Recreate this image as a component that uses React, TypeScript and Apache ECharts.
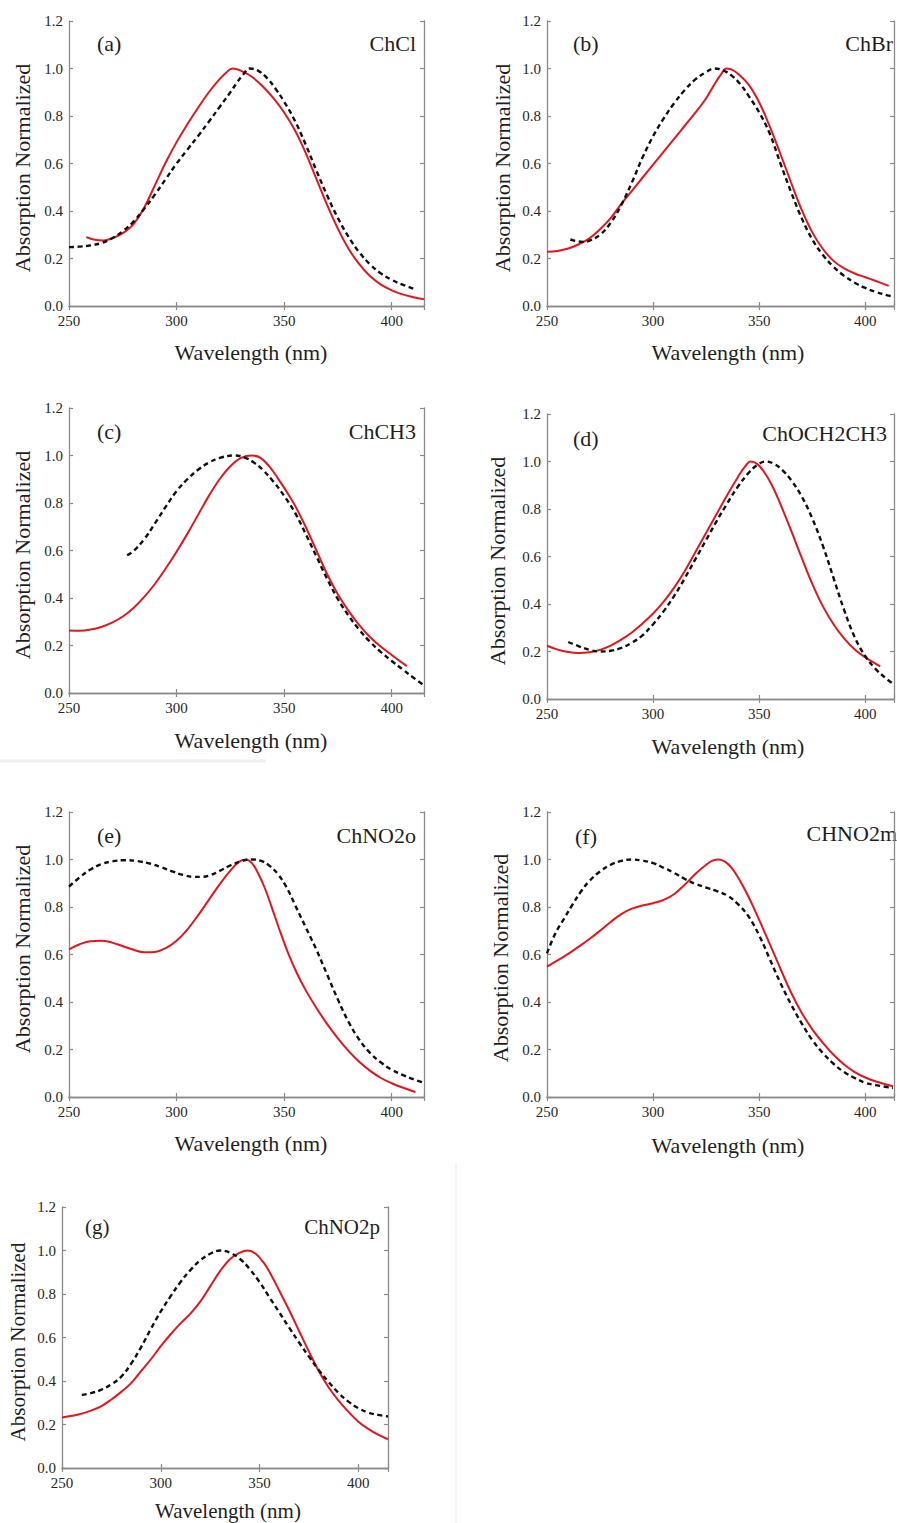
import React, { useEffect, useRef } from "react";
import * as echarts from "echarts";

type Pt = [number, number];

// Normalized absorption spectra, [wavelength nm, normalized absorbance]
const chclSolid: Pt[] = [
  [258, 0.29], [262, 0.279], [266, 0.276], [270, 0.285], [275, 0.307], [280, 0.345], [285, 0.415],
  [290, 0.51], [295, 0.605], [300, 0.69], [305, 0.765], [310, 0.835], [315, 0.9], [320, 0.955],
  [323, 0.982], [326, 1.0], [330, 0.99], [335, 0.965], [340, 0.925], [345, 0.875], [350, 0.815],
  [355, 0.74], [360, 0.645], [365, 0.535], [370, 0.425], [375, 0.325], [380, 0.24], [385, 0.175],
  [390, 0.125], [395, 0.09], [400, 0.066], [405, 0.049], [410, 0.037], [415, 0.028],
];
const chclDashed: Pt[] = [
  [250, 0.248], [255, 0.25], [260, 0.255], [265, 0.265], [270, 0.285], [275, 0.315], [280, 0.355],
  [285, 0.41], [290, 0.47], [295, 0.535], [300, 0.6], [305, 0.658], [310, 0.716], [315, 0.776],
  [320, 0.838], [325, 0.9], [328, 0.94], [331, 0.975], [334, 1.0], [338, 0.99], [342, 0.96],
  [346, 0.915], [350, 0.86], [355, 0.78], [360, 0.68], [365, 0.57], [370, 0.465], [375, 0.37],
  [380, 0.29], [385, 0.225], [390, 0.175], [395, 0.137], [400, 0.11], [405, 0.09], [410, 0.073],
];

const chbrSolid: Pt[] = [
  [250, 0.228], [255, 0.232], [260, 0.242], [265, 0.26], [270, 0.285], [275, 0.323], [280, 0.37],
  [285, 0.43], [290, 0.485], [295, 0.54], [300, 0.595], [305, 0.65], [310, 0.705], [315, 0.76],
  [320, 0.815], [325, 0.875], [329, 0.935], [332, 0.975], [334.5, 1.0], [337, 0.995], [340, 0.978],
  [345, 0.932], [350, 0.857], [355, 0.755], [360, 0.64], [365, 0.52], [370, 0.405], [375, 0.31],
  [380, 0.24], [385, 0.19], [390, 0.158], [395, 0.137], [400, 0.121], [405, 0.105], [411, 0.085],
];
const chbrDashed: Pt[] = [
  [261, 0.28], [264, 0.273], [267, 0.27], [270, 0.275], [275, 0.3], [280, 0.35], [285, 0.425],
  [290, 0.52], [295, 0.625], [300, 0.715], [305, 0.79], [310, 0.855], [315, 0.91], [320, 0.955],
  [325, 0.985], [329, 1.0], [333, 0.992], [337, 0.97], [341, 0.935], [345, 0.885], [350, 0.815],
  [355, 0.725], [360, 0.6], [365, 0.48], [370, 0.37], [375, 0.28], [380, 0.215], [385, 0.165],
  [390, 0.127], [395, 0.098], [400, 0.076], [405, 0.059], [410, 0.046], [413, 0.04],
];

const chch3Solid: Pt[] = [
  [250, 0.263], [255, 0.262], [260, 0.267], [265, 0.278], [270, 0.296], [275, 0.322], [280, 0.358],
  [285, 0.405], [290, 0.46], [295, 0.525], [300, 0.595], [305, 0.67], [310, 0.75], [315, 0.83],
  [320, 0.9], [325, 0.955], [330, 0.99], [335, 1.0], [339, 0.99], [343, 0.955], [347, 0.905],
  [351, 0.85], [355, 0.79], [360, 0.7], [365, 0.6], [370, 0.5], [375, 0.415], [380, 0.345],
  [385, 0.285], [390, 0.235], [395, 0.195], [400, 0.16], [407, 0.113],
];
const chch3Dashed: Pt[] = [
  [277, 0.58], [280, 0.598], [285, 0.648], [290, 0.715], [295, 0.785], [300, 0.85], [305, 0.9],
  [310, 0.94], [315, 0.97], [320, 0.99], [327, 1.0], [332, 0.99], [336, 0.97], [340, 0.94],
  [345, 0.89], [350, 0.83], [355, 0.76], [360, 0.67], [365, 0.575], [370, 0.48], [375, 0.395],
  [380, 0.325], [385, 0.265], [390, 0.215], [395, 0.172], [400, 0.135], [405, 0.1], [410, 0.065],
  [415, 0.032],
];

const choetSolid: Pt[] = [
  [250, 0.224], [255, 0.208], [260, 0.198], [265, 0.194], [270, 0.197], [275, 0.207], [280, 0.225],
  [285, 0.25], [290, 0.28], [295, 0.318], [300, 0.36], [305, 0.41], [310, 0.47], [315, 0.54],
  [320, 0.62], [325, 0.7], [330, 0.78], [335, 0.86], [340, 0.935], [343, 0.975], [346, 1.0],
  [349, 0.99], [352, 0.96], [356, 0.9], [360, 0.82], [365, 0.71], [370, 0.595], [375, 0.485],
  [380, 0.39], [385, 0.315], [390, 0.255], [395, 0.208], [400, 0.175], [407, 0.137],
];
const choetDashed: Pt[] = [
  [260, 0.24], [265, 0.222], [270, 0.207], [275, 0.2], [280, 0.203], [285, 0.215], [290, 0.237],
  [295, 0.268], [300, 0.315], [305, 0.37], [310, 0.435], [315, 0.51], [320, 0.59], [325, 0.67],
  [330, 0.75], [335, 0.825], [340, 0.895], [345, 0.952], [349, 0.985], [353, 1.0], [357, 0.99],
  [361, 0.963], [365, 0.922], [370, 0.853], [375, 0.76], [380, 0.645], [385, 0.51], [390, 0.375],
  [395, 0.26], [400, 0.18], [405, 0.125], [410, 0.085], [413, 0.065],
];

const chno2oSolid: Pt[] = [
  [250, 0.622], [255, 0.643], [260, 0.656], [265, 0.658], [270, 0.65], [275, 0.635], [280, 0.62],
  [285, 0.61], [290, 0.611], [295, 0.627], [300, 0.658], [305, 0.705], [310, 0.765], [315, 0.83],
  [320, 0.895], [325, 0.953], [329, 0.99], [332, 1.0], [335, 0.985], [338, 0.94], [341, 0.88],
  [344, 0.805], [348, 0.7], [352, 0.603], [356, 0.52], [360, 0.45], [365, 0.375], [370, 0.307],
  [375, 0.247], [380, 0.193], [385, 0.147], [390, 0.11], [395, 0.08], [400, 0.058], [405, 0.04],
  [411, 0.021],
];
const chno2oDashed: Pt[] = [
  [250, 0.886], [255, 0.925], [260, 0.958], [265, 0.98], [270, 0.992], [276, 0.997], [282, 0.993],
  [288, 0.982], [293, 0.967], [298, 0.95], [303, 0.935], [308, 0.927], [312, 0.927], [316, 0.935],
  [320, 0.952], [325, 0.975], [330, 0.993], [335, 1.0], [339, 0.995], [343, 0.975], [347, 0.94],
  [351, 0.885], [355, 0.81], [360, 0.715], [365, 0.62], [370, 0.515], [375, 0.41], [380, 0.315],
  [385, 0.24], [390, 0.185], [395, 0.145], [400, 0.115], [405, 0.093], [410, 0.075], [415, 0.06],
];

const chno2mSolid: Pt[] = [
  [250, 0.549], [255, 0.575], [260, 0.603], [265, 0.633], [270, 0.665], [275, 0.7], [280, 0.737],
  [285, 0.77], [290, 0.793], [295, 0.806], [300, 0.816], [305, 0.83], [310, 0.855], [315, 0.895],
  [320, 0.94], [325, 0.978], [328, 0.995], [331, 1.0], [334, 0.99], [337, 0.965], [340, 0.925],
  [344, 0.86], [348, 0.785], [352, 0.705], [356, 0.623], [360, 0.54], [365, 0.44], [370, 0.355],
  [375, 0.285], [380, 0.228], [385, 0.178], [390, 0.137], [395, 0.105], [400, 0.082], [405, 0.065],
  [413, 0.045],
];
const chno2mDashed: Pt[] = [
  [250, 0.605], [254, 0.69], [258, 0.75], [262, 0.81], [266, 0.865], [270, 0.91], [275, 0.95],
  [280, 0.978], [285, 0.994], [290, 1.0], [295, 0.995], [300, 0.985], [305, 0.965], [310, 0.943],
  [315, 0.918], [320, 0.897], [325, 0.882], [330, 0.867], [335, 0.848], [340, 0.812], [345, 0.76],
  [350, 0.68], [355, 0.58], [360, 0.48], [365, 0.39], [370, 0.31], [375, 0.24], [380, 0.185],
  [385, 0.14], [390, 0.105], [395, 0.08], [400, 0.06], [405, 0.05], [413, 0.038],
];

const chno2pSolid: Pt[] = [
  [250, 0.232], [255, 0.24], [260, 0.25], [265, 0.265], [270, 0.285], [275, 0.315], [280, 0.35],
  [285, 0.39], [290, 0.445], [295, 0.5], [300, 0.56], [305, 0.615], [310, 0.665], [315, 0.71],
  [320, 0.765], [325, 0.835], [330, 0.905], [335, 0.96], [340, 0.99], [344, 1.0], [348, 0.985],
  [352, 0.945], [356, 0.885], [360, 0.815], [365, 0.725], [370, 0.63], [375, 0.535], [380, 0.445],
  [385, 0.37], [390, 0.31], [395, 0.258], [400, 0.213], [405, 0.18], [410, 0.153], [415, 0.132],
];
const chno2pDashed: Pt[] = [
  [260, 0.336], [265, 0.345], [270, 0.36], [275, 0.385], [280, 0.42], [285, 0.48], [290, 0.555],
  [295, 0.64], [300, 0.72], [305, 0.79], [310, 0.855], [315, 0.91], [320, 0.955], [325, 0.985],
  [330, 1.0], [335, 0.99], [340, 0.962], [345, 0.915], [350, 0.855], [355, 0.785], [360, 0.715],
  [365, 0.645], [370, 0.577], [375, 0.512], [380, 0.45], [385, 0.395], [390, 0.345], [395, 0.305],
  [400, 0.275], [405, 0.255], [410, 0.244], [415, 0.237],
];

const panelTags = ["(a)", "(b)", "(c)", "(d)", "(e)", "(f)", "(g)"];
const compoundNames = ["ChCl", "ChBr", "ChCH3", "ChOCH2CH3", "ChNO2o", "CHNO2m", "ChNO2p"];
const solidSets = [chclSolid, chbrSolid, chch3Solid, choetSolid, chno2oSolid, chno2mSolid, chno2pSolid];
const dashedSets = [chclDashed, chbrDashed, chch3Dashed, choetDashed, chno2oDashed, chno2mDashed, chno2pDashed];

const X_MIN = 250;
const X_STEP = 50;
const Y_MAX = 1.2;
const Y_STEP = 0.2;
const X_TITLE = "Wavelength (nm)";
const Y_TITLE = "Absorption Normalized";

// Placement of each panel on the page
const layouts = [
  { left: 69, top: 21, width: 355, height: 285, xMax: 415, tag: [97, 43], name: [416, 43], xt: [251, 352], yt: [22, 168], fs: 22 },
  { left: 547, top: 21, width: 351, height: 285, xMax: 413.5, tag: [573, 43], name: [893, 43], xt: [728, 352], yt: [502, 168], fs: 22 },
  { left: 69, top: 408, width: 355, height: 285, xMax: 415, tag: [97, 431], name: [416, 431], xt: [251, 740], yt: [22, 555], fs: 22 },
  { left: 547, top: 414, width: 351, height: 285, xMax: 413.5, tag: [573, 438], name: [887, 433], xt: [728, 746], yt: [497, 561], fs: 22 },
  { left: 69, top: 812, width: 355, height: 285, xMax: 415, tag: [97, 835], name: [416, 835], xt: [251, 1143], yt: [22, 949], fs: 22 },
  { left: 547, top: 812, width: 351, height: 285, xMax: 413.5, tag: [575, 836], name: [897, 833], xt: [728, 1145], yt: [500, 958], fs: 22 },
  { left: 62, top: 1207, width: 326, height: 261, xMax: 415, tag: [85, 1227], name: [380, 1227], xt: [228, 1511], yt: [18, 1342], fs: 21 },
];

const FONT = "Liberation Serif";
const FRAME = "#8a8a8a";
const TEXT = "#1f1f1f";
const TICK_TEXT = "#262626";

export default function App() {
  const ref = useRef<HTMLDivElement>(null);

  useEffect(() => {
    if (!ref.current) return;
    document.body.style.margin = "0";
    const chart = echarts.init(ref.current, null, { renderer: "svg" });

    const grid: any[] = [];
    const xAxis: any[] = [];
    const yAxis: any[] = [];
    const series: any[] = [];
    const graphic: any[] = [];

    const axisLine = { show: true, lineStyle: { color: FRAME, width: 1.3 } };
    const axisTick = { show: true, inside: true, length: 4, lineStyle: { color: FRAME, width: 1.2 } };
    const tickLabel = { show: true, fontFamily: FONT, fontSize: 15, color: TICK_TEXT };

    layouts.forEach((L, i) => {
      grid.push({ left: L.left, top: L.top, width: L.width, height: L.height, containLabel: false });
      const xCommon = {
        type: "value", gridIndex: i, min: X_MIN, max: L.xMax, interval: X_STEP,
        axisLine, axisTick, splitLine: { show: false },
      };
      xAxis.push({
        ...xCommon, position: "bottom",
        axisLabel: {
          ...tickLabel, margin: 7,
          formatter: (v: number) => (v % X_STEP === 0 ? String(v) : ""),
        },
      });
      xAxis.push({ ...xCommon, position: "top", axisLabel: { show: false } });
      const yCommon = {
        type: "value", gridIndex: i, min: 0, max: Y_MAX, interval: Y_STEP,
        axisLine, axisTick, splitLine: { show: false },
      };
      yAxis.push({
        ...yCommon, position: "left",
        axisLabel: { ...tickLabel, margin: 6, formatter: (v: number) => v.toFixed(1) },
      });
      yAxis.push({ ...yCommon, position: "right", axisLabel: { show: false } });

      series.push({
        type: "line", xAxisIndex: 2 * i, yAxisIndex: 2 * i,
        data: solidSets[i], showSymbol: false, smooth: 0.4,
        lineStyle: { color: "#e8141b", width: 2 }, z: 3,
      });
      series.push({
        type: "line", xAxisIndex: 2 * i, yAxisIndex: 2 * i,
        data: dashedSets[i], showSymbol: false, smooth: 0.4,
        lineStyle: { color: "#111111", width: 2.4, type: [5, 3.5] }, z: 4,
      });

      const textStyle = (text: string, align: string) => ({
        text, fontFamily: FONT, fontSize: L.fs, fill: TEXT, align, verticalAlign: "middle",
      });
      graphic.push({ type: "text", x: L.tag[0], y: L.tag[1], style: textStyle(panelTags[i], "left") });
      graphic.push({ type: "text", x: L.name[0], y: L.name[1], style: textStyle(compoundNames[i], "right") });
      graphic.push({ type: "text", x: L.xt[0], y: L.xt[1], style: textStyle(X_TITLE, "center") });
      graphic.push({
        type: "text", x: L.yt[0], y: L.yt[1], rotation: Math.PI / 2,
        style: textStyle(Y_TITLE, "center"),
      });
    });

    // faint separators of the page layout
    graphic.push({ type: "line", shape: { x1: 0, y1: 761, x2: 266, y2: 761 }, style: { stroke: "#efefef", lineWidth: 3 } });
    graphic.push({ type: "line", shape: { x1: 456, y1: 1163, x2: 456, y2: 1523 }, style: { stroke: "#f2f2f2", lineWidth: 1.5 } });

    chart.setOption({
      animation: false,
      backgroundColor: "#ffffff",
      textStyle: { fontFamily: FONT, fontSize: 15, color: TICK_TEXT },
      grid, xAxis, yAxis, series, graphic,
    });

    return () => chart.dispose();
  }, []);

  return (
    <div
      ref={ref}
      style={{ position: "absolute", left: 0, top: 0, width: 897, height: 1523 }}
    />
  );
}
